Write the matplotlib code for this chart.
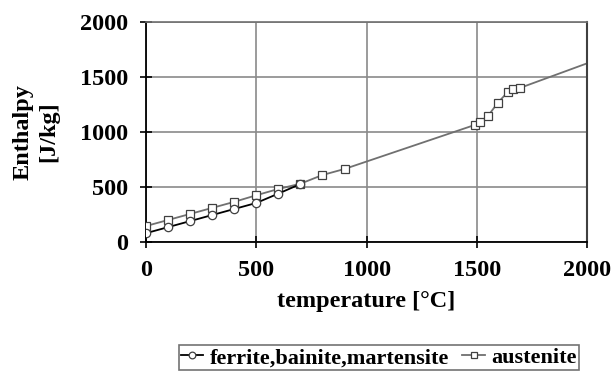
import matplotlib
matplotlib.use("Agg")
import matplotlib.pyplot as plt

ferrite_T = [0, 100, 200, 300, 400, 500, 600, 700]
ferrite_H = [80, 135, 190, 245, 300, 355, 440, 527]
aust_T = [0, 100, 200, 300, 400, 500, 600, 700, 800, 900,
          1490, 1512, 1550, 1594, 1640, 1663, 1694]
aust_H = [145, 200, 255, 310, 365, 425, 482, 530, 609, 664,
          1064, 1091, 1145, 1264, 1364, 1391, 1400]
aust_ext_T = [1694, 2000]
aust_ext_H = [1400, 1625]

xticks = [0, 500, 1000, 1500, 2000]
yticks = [0, 500, 1000, 1500, 2000]

plt.rcParams['font.family'] = ['Liberation Serif', 'DejaVu Serif']
plt.rcParams['font.weight'] = 'bold'

FS = 17.5

fig = plt.figure(figsize=(6.11, 3.74), dpi=100)
ax = fig.add_axes([0.239, 0.353, 0.722, 0.588])

ax.plot(aust_ext_T, aust_ext_H, color='#707070', lw=1.3, zorder=2)
la, = ax.plot(aust_T, aust_H, color='#707070', lw=1.3, marker='s', ms=6,
              mfc='white', mec='#404040', mew=0.9, zorder=3, label='austenite')
lf, = ax.plot(ferrite_T, ferrite_H, color='black', lw=1.3, marker='o', ms=6,
              mfc='white', mec='#404040', mew=0.9, zorder=4,
              label='ferrite,bainite,martensite')

ax.set_xlim(0, 2000)
ax.set_ylim(0, 2000)
ax.set_xticks(xticks)
ax.set_yticks(yticks)
ax.grid(True, color='#8a8a8a', lw=1.2)
ax.spines['top'].set_color('#707070')
ax.spines['top'].set_linewidth(1.2)
ax.spines['right'].set_color('#404040')
ax.spines['right'].set_linewidth(1.5)
ax.spines['left'].set_linewidth(1.3)
ax.spines['bottom'].set_linewidth(1.3)
ax.tick_params(direction='inout', length=8, width=1.2, labelsize=FS, pad=9)
for lbl in ax.get_xticklabels() + ax.get_yticklabels():
    lbl.set_fontweight('bold')

ax.set_xlabel('temperature [°C]', fontsize=FS, fontweight='bold', labelpad=7)
ax.set_ylabel('Enthalpy\n[J/kg]', fontsize=FS, fontweight='bold', labelpad=15,
              linespacing=1.3)

leg = fig.legend(handles=[lf, la], loc='center', bbox_to_anchor=(0.62, 0.043),
                 ncol=2, frameon=True, fancybox=False, edgecolor='#505050',
                 prop={'weight': 'bold', 'size': 16},
                 handlelength=1.0, handletextpad=0.3, columnspacing=0.6,
                 borderpad=0.1, borderaxespad=0, markerscale=0.8)
leg.get_frame().set_linewidth(1.2)

fig.savefig('out.png', dpi=100)
